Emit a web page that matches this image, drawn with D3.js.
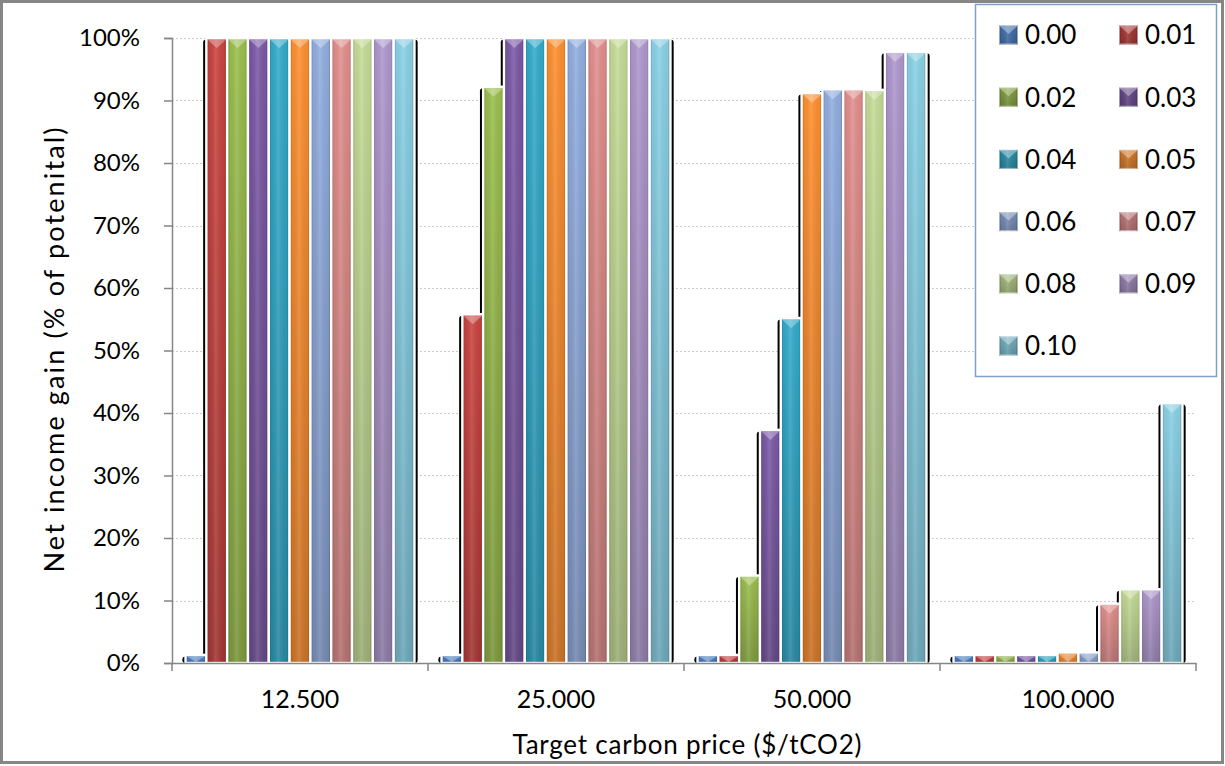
<!DOCTYPE html>
<html>
<head>
<meta charset="utf-8">
<script src="https://cdn.jsdelivr.net/npm/d3@7/dist/d3.min.js"></script>
<style>
  html, body { margin: 0; padding: 0; background: #fff; }
  svg { display: block; font-family: Lato, "Open Sans", sans-serif; }
</style>
</head>
<body>
<svg id="chart" width="1225" height="766"></svg>
<script>
// Target carbon prices ($/tCO2) on the x axis
const categories = ["12.500", "25.000", "50.000", "100.000"];
// Series keys (legend entries)
const seriesKeys = ["0.00", "0.01", "0.02", "0.03", "0.04", "0.05", "0.06", "0.07", "0.08", "0.09", "0.10"];
// Net income gain (fraction of potential), one array per category, in series order
const values12500  = [0.013, 1.00, 1.00, 1.00, 1.00, 1.00, 1.00, 1.00, 1.00, 1.00, 1.00];
const values25000  = [0.013, 0.558, 0.922, 1.00, 1.00, 1.00, 1.00, 1.00, 1.00, 1.00, 1.00];
const values50000  = [0.013, 0.013, 0.140, 0.373, 0.552, 0.912, 0.918, 0.918, 0.917, 0.978, 0.978];
const values100000 = [0.013, 0.013, 0.013, 0.013, 0.013, 0.017, 0.017, 0.095, 0.118, 0.118, 0.416];
const valuesByCategory = [values12500, values25000, values50000, values100000];
// Y axis tick values
const yTicks = [0, 0.1, 0.2, 0.3, 0.4, 0.5, 0.6, 0.7, 0.8, 0.9, 1.0];
// Series colours
const seriesColors = ["#4E84CC", "#C4423F", "#96B84A", "#7856A2", "#31A6C4", "#F68B2E",
                      "#8DA8D9", "#DB8A88", "#BED591", "#A993C7", "#85CBE0"];

const svg = d3.select("#chart");
const plot = { left: 172, right: 1196, top: 38, bottom: 663 };

const x = d3.scaleBand().domain(categories).range([plot.left, plot.right]).padding(0);
const xs = d3.scaleBand().domain(seriesKeys).range([0, x.bandwidth()]).paddingInner(0).paddingOuter(0.65);
const y = d3.scaleLinear().domain([0, 1]).range([plot.bottom, plot.top]);
const color = d3.scaleOrdinal().domain(seriesKeys).range(seriesColors);

// Gradients and filters
const defs = svg.append("defs");
seriesKeys.forEach((k, i) => {
  const c = d3.color(color(k));
  const g = defs.append("linearGradient").attr("id", "fill" + i)
    .attr("x1", 0).attr("y1", 0).attr("x2", 0).attr("y2", 1);
  g.append("stop").attr("offset", 0).attr("stop-color", c.brighter(0.1).formatHex());
  g.append("stop").attr("offset", 1).attr("stop-color", c.darker(0.55).formatHex());
  const lg = defs.append("linearGradient").attr("id", "lfill" + i)
    .attr("x1", 0).attr("y1", 0).attr("x2", 0).attr("y2", 1);
  lg.append("stop").attr("offset", 0).attr("stop-color", c.darker(0.4).formatHex());
  lg.append("stop").attr("offset", 1).attr("stop-color", c.darker(0.9).formatHex());
});
const bevel = defs.append("linearGradient").attr("id", "bevel")
  .attr("x1", 0).attr("y1", 0).attr("x2", 1).attr("y2", 0);
[[0, "#000", 0.28], [0.14, "#000", 0.04], [0.45, "#fff", 0.12], [0.86, "#000", 0.04], [1, "#000", 0.32]]
  .forEach(([o, c, a]) => bevel.append("stop").attr("offset", o).attr("stop-color", c).attr("stop-opacity", a));
defs.append("filter").attr("id", "soft").attr("x", "-20%").attr("y", "-5%").attr("width", "140%").attr("height", "110%")
  .append("feGaussianBlur").attr("stdDeviation", 0.35);

// Chart border
svg.append("rect").attr("x", 1.5).attr("y", 1.5).attr("width", 1221).attr("height", 761)
  .attr("fill", "#fff").attr("stroke", "#868686").attr("stroke-width", 3);

// Dotted gridlines
svg.append("g").selectAll("line").data(yTicks.filter(t => t > 0)).join("line")
  .attr("x1", plot.left).attr("x2", plot.right)
  .attr("y1", d => Math.round(y(d)) + 0.5).attr("y2", d => Math.round(y(d)) + 0.5)
  .attr("stroke", "#cccccc").attr("stroke-width", 1).attr("stroke-dasharray", "2,2");

// Flatten into bar records
const bars = [];
categories.forEach((cat, ci) => {
  seriesKeys.forEach((k, si) => bars.push({ cat, key: k, si, v: valuesByCategory[ci][si] }));
});

// Dark shadows behind the bars
svg.append("g").attr("filter", "url(#soft)").selectAll("rect").data(bars).join("rect")
  .attr("x", d => x(d.cat) + xs(d.key) - 3.2)
  .attr("y", d => y(d.v) + 1.5)
  .attr("width", xs.bandwidth() + 6.4)
  .attr("height", d => plot.bottom - y(d.v) - 1.5)
  .attr("rx", 3)
  .attr("fill", "#000");

// Bars
const barG = svg.append("g");
const bar = barG.selectAll("g").data(bars).join("g");
bar.append("rect")
  .attr("x", d => x(d.cat) + xs(d.key))
  .attr("y", d => y(d.v))
  .attr("width", xs.bandwidth())
  .attr("height", d => plot.bottom - y(d.v))
  .attr("fill", d => `url(#fill${d.si})`);
bar.append("rect")
  .attr("x", d => x(d.cat) + xs(d.key))
  .attr("y", d => y(d.v))
  .attr("width", xs.bandwidth())
  .attr("height", d => plot.bottom - y(d.v))
  .attr("fill", "url(#bevel)");
// Top highlight chevron
bar.append("path")
  .attr("d", d => {
    const x0 = x(d.cat) + xs(d.key) + 1, x1 = x0 + xs.bandwidth() - 2;
    const t = y(d.v) + 1, h = Math.min(9, plot.bottom - y(d.v) - 2);
    const m = (x0 + x1) / 2;
    return `M${x0},${t}L${x1},${t}L${x1 - 3},${t + h * 0.35}L${m},${t + h}L${x0 + 3},${t + h * 0.35}Z`;
  })
  .attr("fill", "#fff").attr("fill-opacity", 0.32);
bar.append("rect")
  .attr("x", d => x(d.cat) + xs(d.key))
  .attr("y", d => y(d.v))
  .attr("width", xs.bandwidth())
  .attr("height", d => plot.bottom - y(d.v))
  .attr("fill", "none").attr("stroke", "#fff").attr("stroke-width", 2.4);

// Y axis
const yAxis = svg.append("g").attr("transform", `translate(${plot.left},0)`)
  .call(d3.axisLeft(y).tickValues(yTicks).tickFormat(d3.format(".0%")).tickSize(8).tickPadding(24));
yAxis.select(".domain").attr("stroke", "#868686").attr("stroke-width", 1.5);
yAxis.selectAll(".tick line").attr("stroke", "#868686").attr("stroke-width", 1.5);
yAxis.selectAll(".tick text").attr("font-size", 24).attr("fill", "#000")
  .attr("font-family", "Lato, 'Open Sans', sans-serif");

// X axis
const xAxis = svg.append("g").attr("transform", `translate(0,${plot.bottom})`)
  .call(d3.axisBottom(x).tickSize(0).tickPadding(27));
xAxis.select(".domain").attr("stroke", "#868686").attr("stroke-width", 1.5);
xAxis.selectAll(".tick text").attr("font-size", 25).attr("fill", "#000")
  .attr("font-family", "Lato, 'Open Sans', sans-serif");
// Category boundary ticks
const bounds = categories.map(c => x(c)).concat([x(categories[categories.length - 1]) + x.bandwidth()]);
xAxis.selectAll(".bound").data(bounds).join("line").attr("class", "bound")
  .attr("x1", d => d).attr("x2", d => d).attr("y1", 0).attr("y2", 8)
  .attr("stroke", "#868686").attr("stroke-width", 1.5);

// Axis titles
svg.append("text").attr("transform", `translate(64,350) rotate(-90)`)
  .attr("text-anchor", "middle").attr("font-size", 27).attr("fill", "#000")
  .attr("textLength", 445).attr("lengthAdjust", "spacing")
  .text("Net income gain (% of potenital)");
svg.append("text").attr("x", 687).attr("y", 754)
  .attr("text-anchor", "middle").attr("font-size", 26).attr("fill", "#000")
  .attr("textLength", 349).attr("lengthAdjust", "spacing")
  .text("Target carbon price ($/tCO2)");

// Legend
const legend = svg.append("g");
legend.append("rect").attr("x", 975.5).attr("y", 4.5).attr("width", 241).attr("height", 372)
  .attr("fill", "#fff").attr("stroke", "#7F9FCE").attr("stroke-width", 1.5);
const item = legend.selectAll("g.item").data(seriesKeys).join("g").attr("class", "item")
  .attr("transform", (d, i) => `translate(${i % 2 === 0 ? 999 : 1119},${35 + Math.floor(i / 2) * 62.2})`);
item.append("rect").attr("x", 0).attr("y", -9.5).attr("width", 19).attr("height", 19)
  .attr("fill", (d, i) => `url(#lfill${i})`);
item.append("rect").attr("x", 0).attr("y", -9.5).attr("width", 19).attr("height", 19)
  .attr("fill", "url(#bevel)");
item.append("path").attr("d", "M1,-8.5L18,-8.5L15,-6L9.5,-1L4,-6Z")
  .attr("fill", "#fff").attr("fill-opacity", 0.35);
item.append("rect").attr("x", 0.5).attr("y", -9).attr("width", 18).attr("height", 18)
  .attr("fill", "none").attr("stroke", "#fff").attr("stroke-opacity", 0.5).attr("stroke-width", 1);
item.append("text").attr("x", 26).attr("y", 0).attr("dy", "0.36em")
  .attr("font-size", 26).attr("fill", "#000").text(d => d);
</script>
</body>
</html>
